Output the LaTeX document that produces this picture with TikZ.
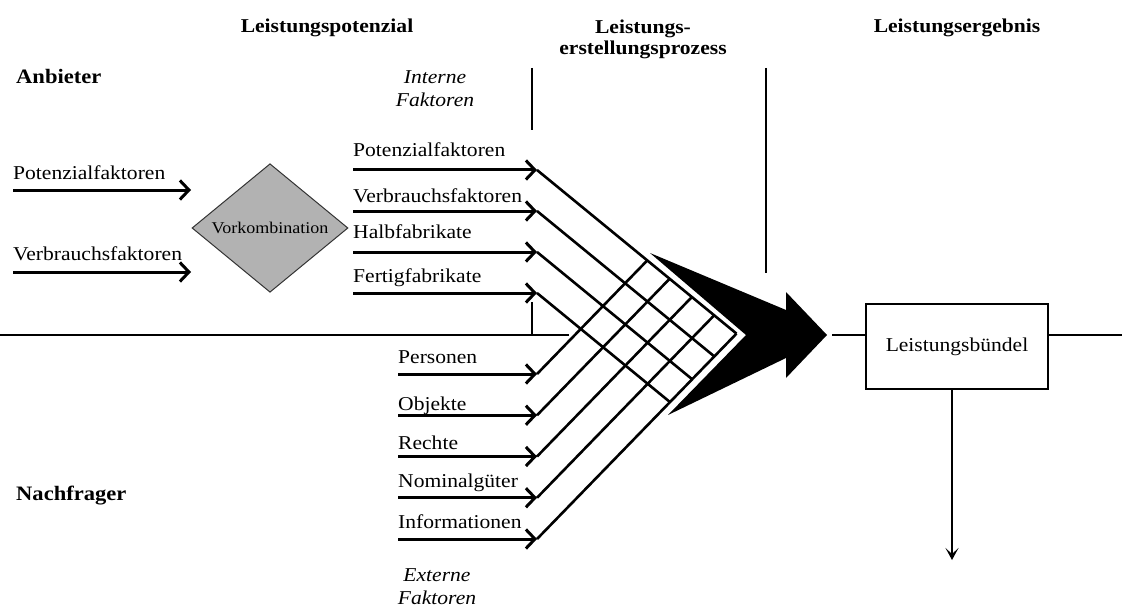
\documentclass[tikz,border=0pt]{standalone}
\usepackage{fontspec}
\setmainfont{Liberation Serif}[FakeStretch=1.1]
\usetikzlibrary{arrows.meta,shapes.geometric}

\begin{document}
\begin{tikzpicture}[x=1pt,y=-1pt,
  lbl/.style={inner sep=0pt, font=\fontsize{19.6}{22}\selectfont},
  headtxt/.style={inner sep=0pt, font=\fontsize{19.6}{21}\selectfont\bfseries, align=center},
  sidetxt/.style={inner sep=0pt, font=\fontsize{20.5}{22}\selectfont\bfseries},
  itxt/.style={inner sep=0pt, font=\fontsize{19.6}{23}\selectfont\itshape, align=center},
  fatarrow/.style={line width=3pt, -{Straight Barb[length=9pt,width=19pt]}},
  latline/.style={line width=2.6pt, line cap=butt},
  rule/.style={line width=1.4pt},
  outarrow/.style={line width=1.4pt, -{Stealth[length=12pt,width=13pt,inset=6pt]}},
]
\useasboundingbox (0,0) rectangle (1122,607);

% ---------- headings ----------
\node[headtxt, anchor=base] (hpot) at (327,33) {Leistungspotenzial};
\node[headtxt, anchor=north] (hproc) at (643,20) {Leistungs-\\erstellungsprozess};
\node[headtxt, anchor=base] (herg) at (957,33) {Leistungsergebnis};
\node[sidetxt, anchor=base west] (anb) at (16,84) {Anbieter};
\node[sidetxt, anchor=base west] (nach) at (16,500) {Nachfrager};
\node[itxt, anchor=north] (intf) at (435,70) {Interne\\Faktoren};
\node[itxt, anchor=south] (extf) at (437,605) {Externe\\Faktoren};

% ---------- dividing rules ----------
\coordinate (hl0) at (0,335);
\coordinate (hl1) at (569,335);
\draw[rule] (hl0) -- (hl1);
\coordinate (v1a) at (532,68);  \coordinate (v1b) at (532,130);
\coordinate (v1c) at (532,302); \coordinate (v1d) at (532,335);
\coordinate (v2a) at (766,68);  \coordinate (v2b) at (766,273);
\draw[rule] (v1a) -- (v1b);
\draw[rule] (v1c) -- (v1d);
\draw[rule] (v2a) -- (v2b);

% ---------- pre-combination ----------
\node[draw=black!80, line width=1pt, fill=black!30, shape=diamond, inner sep=0pt,
      minimum width=156pt, minimum height=124pt,
      font=\fontsize{16.4}{18}\selectfont] (vk) at (270,228) {Vorkombination};
\node[lbl, anchor=base west] (lpf) at (13,179) {Potenzialfaktoren};
\node[lbl, anchor=base west] (lvf) at (13,260) {Verbrauchsfaktoren};
\coordinate (lpa) at (13,190);  \coordinate (lpb) at (191,190);
\coordinate (lva) at (13,272);  \coordinate (lvb) at (191,272);
\draw[fatarrow] (lpa) -- (lpb);
\draw[fatarrow] (lva) -- (lvb);

% ---------- internal factors ----------
\node[lbl, anchor=base west] (ipf) at (353,157) {Potenzialfaktoren};
\node[lbl, anchor=base west] (ivf) at (353,202) {Verbrauchsfaktoren};
\node[lbl, anchor=base west] (ihf) at (353,238) {Halbfabrikate};
\node[lbl, anchor=base west] (iff) at (353,282) {Fertigfabrikate};
\foreach \i/\y in {0/170,1/211,2/252,3/293}{
  \coordinate (is\i) at (353,\y);
  \coordinate (it\i) at (537,\y);
  \draw[fatarrow] (is\i) -- (it\i);
}

% ---------- external factors ----------
\node[lbl, anchor=base west] (epe) at (398,363) {Personen};
\node[lbl, anchor=base west] (eob) at (398,410) {Objekte};
\node[lbl, anchor=base west] (ere) at (398,449) {Rechte};
\node[lbl, anchor=base west] (eno) at (398,487) {Nominalgüter};
\node[lbl, anchor=base west] (ein) at (398,528) {Informationen};
\foreach \j/\y in {0/374,1/415.25,2/456.5,3/497.75,4/539}{
  \coordinate (es\j) at (398,\y);
  \coordinate (et\j) at (537,\y);
  \draw[fatarrow] (es\j) -- (et\j);
}

% ---------- combination lattice ----------
% internal lines run down to the last external line
\coordinate (ie0) at (736.5,333.6);
\coordinate (ie1) at (714.3,356.4);
\coordinate (ie2) at (692.1,379.2);
\coordinate (ie3) at (670.0,402.1);
% external lines run up to the first internal line
\coordinate (ee0) at (647.3,260.4);
\coordinate (ee1) at (669.6,278.8);
\coordinate (ee2) at (691.9,297.0);
\coordinate (ee3) at (714.2,315.3);
\coordinate (ee4) at (736.5,333.6);
\foreach \i in {0,...,3}{ \draw[latline] (it\i) -- (ie\i); }
\foreach \j in {0,...,4}{ \draw[latline] (et\j) -- (ee\j); }

% ---------- process arrow ----------
\coordinate (pa) at (650,253);
\coordinate (pb) at (786,310);
\coordinate (pc) at (786,292);
\coordinate (ptip) at (827,335);
\coordinate (pd) at (786,378);
\coordinate (pe) at (786,358);
\coordinate (pf) at (668,415);
\coordinate (pn) at (746,335);
\fill (pa) -- (pb) -- (pc) -- (ptip) -- (pd) -- (pe) -- (pf) -- (pn) -- cycle;

% ---------- result ----------
\node[draw, line width=1.3pt, minimum width=182pt, minimum height=85pt, inner sep=0pt,
      font=\fontsize{19.6}{22}\selectfont] (lb) at (957,346.5) {Leistungsbündel};
\coordinate (rs) at (832,335);
\coordinate (re) at (1122,335);
\draw[rule] (rs) -- (rs -| lb.west);
\draw[rule] (lb.east |- re) -- (re);
\coordinate (dn) at (952,560);
\draw[outarrow] (lb.south -| dn) -- (dn);

\end{tikzpicture}
\end{document}
